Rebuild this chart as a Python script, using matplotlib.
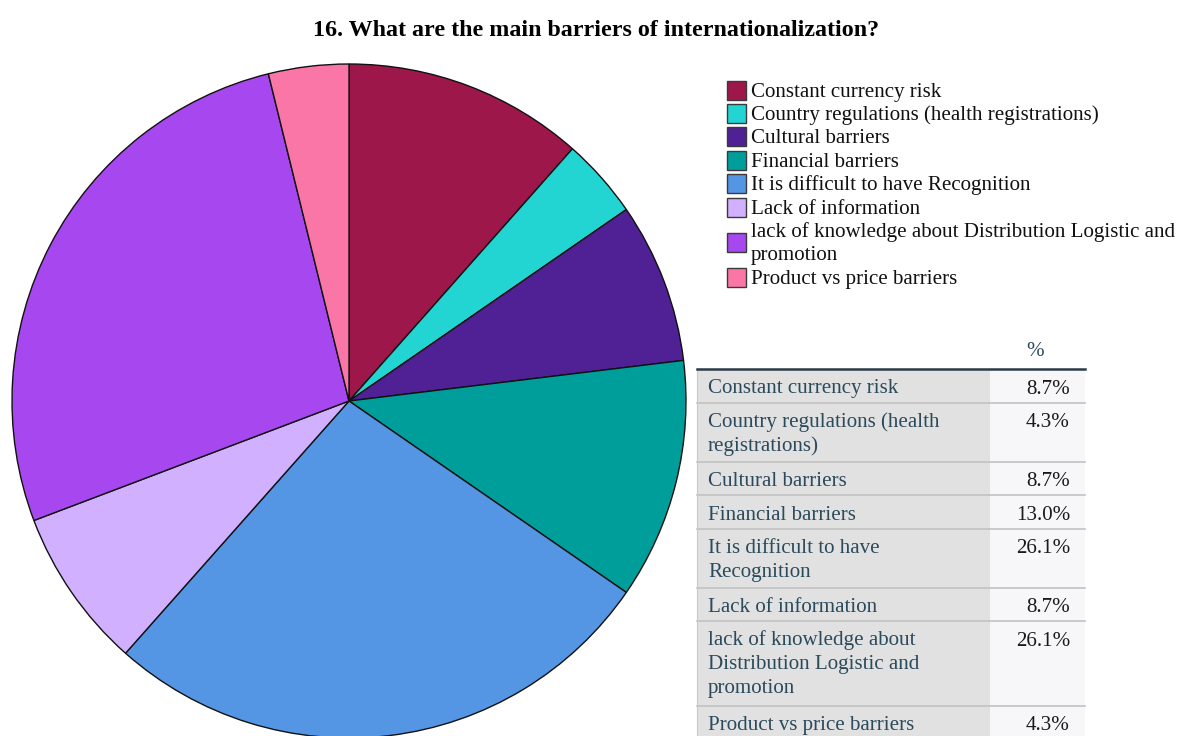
import matplotlib.pyplot as plt
from matplotlib.patches import Rectangle

plt.rcParams['font.family'] = ['Liberation Serif', 'DejaVu Serif']

# Survey question 16 - barriers of internationalization
categories = ['Constant currency risk',
              'Country regulations (health registrations)',
              'Cultural barriers',
              'Financial barriers',
              'It is difficult to have Recognition',
              'Lack of information',
              'lack of knowledge about Distribution Logistic and promotion',
              'Product vs price barriers']
# mentions per barrier (pie slices)
pie_counts = [3, 1, 2, 3, 7, 2, 7, 1]
colors = ['#9E174B', '#22D4D2', '#4F2195', '#009E9A',
          '#5596E4', '#D1B0FF', '#A647F0', '#FA76A6']

legend_lines = [['Constant currency risk'],
                ['Country regulations (health registrations)'],
                ['Cultural barriers'],
                ['Financial barriers'],
                ['It is difficult to have Recognition'],
                ['Lack of information'],
                ['lack of knowledge about Distribution Logistic and', 'promotion'],
                ['Product vs price barriers']]

# frequency table shown next to the chart
table_lines = [['Constant currency risk'],
               ['Country regulations (health', 'registrations)'],
               ['Cultural barriers'],
               ['Financial barriers'],
               ['It is difficult to have', 'Recognition'],
               ['Lack of information'],
               ['lack of knowledge about', 'Distribution Logistic and', 'promotion'],
               ['Product vs price barriers']]
table_pct = [8.7, 4.3, 8.7, 13.0, 26.1, 8.7, 26.1, 4.3]

W, H = 1180, 736
fig = plt.figure(figsize=(W / 100, H / 100), dpi=100)

# full-figure overlay in pixel units for legend + table
ov = fig.add_axes([0, 0, 1, 1])
ov.set_xlim(0, W)
ov.set_ylim(H, 0)
ov.axis('off')

fig.text(596 / W, 1 - 30 / H, '16. What are the main barriers of internationalization?',
         ha='center', va='center', fontsize=17.3, fontweight='bold')

# pie
cx, cy, r = 349, 401, 338
ax = fig.add_axes([(cx - r) / W, (H - cy - r) / H, 2 * r / W, 2 * r / H])
ax.pie(pie_counts, colors=colors, startangle=90, counterclock=False, radius=1,
       wedgeprops=dict(edgecolor='#111111', linewidth=1.0))
ax.set_xlim(-1.003, 1.003)
ax.set_ylim(-1.003, 1.003)
ax.axis('off')

# legend
fs = 15.1
y = 90
step = 23.4
for lines, c in zip(legend_lines, colors):
    yc = y + step * (len(lines) - 1) / 2
    ov.add_patch(Rectangle((727, yc - 9.5), 19, 19, facecolor=c,
                           edgecolor='#3a3a3a', linewidth=1.0))
    for ln in lines:
        ov.text(751, y + 6.5, ln, fontsize=fs, va='baseline', ha='left', color='#111111')
        y += step

# table
tx0, tx1, tx2 = 697, 990, 1085
txt_col = '#2B4A5C'
ov.text(1035, 352, '%', fontsize=fs, ha='center', va='center', color=txt_col)
top = 369
for lines, pct in zip(table_lines, table_pct):
    h = 33.5 + 25.5 * (len(lines) - 1)
    ov.add_patch(Rectangle((tx0, top), tx1 - tx0, h, facecolor='#E1E1E1', edgecolor='none'))
    ov.add_patch(Rectangle((tx1, top), tx2 - tx1, h, facecolor='#F7F7F9', edgecolor='none'))
    for i, ln in enumerate(lines):
        ov.text(708, top + 18 + 23.5 * i + 6.5, ln, fontsize=fs, va='baseline',
                ha='left', color=txt_col)
    ov.text(1070, top + 18 + 6.5, f'{pct:.1f}%', fontsize=fs, va='baseline',
            ha='right', color='#1a1a1a')
    top += h
    ov.plot([tx0, tx2], [top, top], color='#C2C2C2', linewidth=1.2)

ov.plot([tx0, tx0], [369, H], color='#C8C8C8', linewidth=0.8)
ov.plot([tx0, tx2], [369, 369], color='#2B3A47', linewidth=1.8)

fig.savefig('out.png', dpi=100)
